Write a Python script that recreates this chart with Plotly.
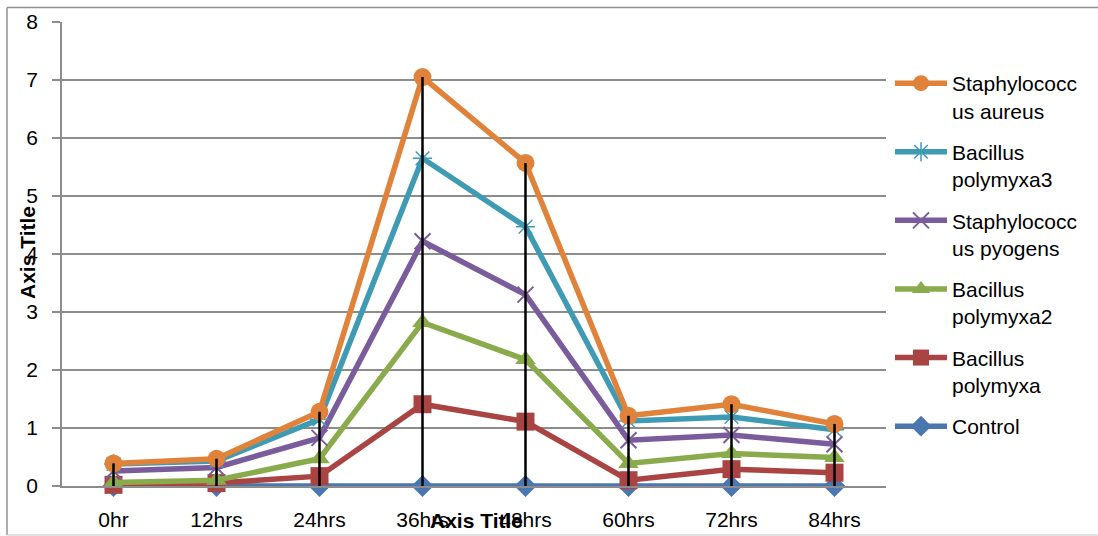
import plotly.graph_objects as go

categories = ["0hr", "12hrs", "24hrs", "36hrs", "48hrs", "60hrs", "72hrs", "84hrs"]

control = [0, 0, 0, 0, 0, 0, 0, 0]
bacillus_polymyxa = [0.02, 0.05, 0.17, 1.41, 1.11, 0.10, 0.29, 0.23]
bacillus_polymyxa2 = [0.06, 0.10, 0.47, 2.82, 2.18, 0.39, 0.56, 0.49]
staph_pyogens = [0.26, 0.32, 0.83, 4.22, 3.30, 0.79, 0.88, 0.72]
bacillus_polymyxa3 = [0.38, 0.43, 1.15, 5.65, 4.47, 1.12, 1.19, 0.97]
staph_aureus = [0.39, 0.47, 1.28, 7.05, 5.57, 1.21, 1.41, 1.07]

series = [
    ("Control", control, "#4A77B0", "diamond", 17, 0),
    ("Bacillus<br>polymyxa", bacillus_polymyxa, "#AA4443", "square", 18, 0),
    ("Bacillus<br>polymyxa2", bacillus_polymyxa2, "#8AAB4B", "triangle-up", 18, 0),
    ("Staphylococc<br>us pyogens", staph_pyogens, "#7A5C9C", "x-thin-open", 16, 2),
    ("Bacillus<br>polymyxa3", bacillus_polymyxa3, "#3F9BB4", "asterisk-open", 16, 1.5),
    ("Staphylococc<br>us aureus", staph_aureus, "#E0823A", "circle", 18, 0),
]

fig = go.Figure()
n = len(series)
for i, (name, vals, color, sym, size, lw) in enumerate(series):
    fig.add_trace(go.Scatter(
        x=categories, y=vals, name=name, mode="lines+markers",
        legendgroup="g%d" % i, legendrank=n - i,
        line=dict(color=color, width=5.5),
        marker=dict(symbol=sym, size=size, color=color,
                    line=dict(color=color, width=lw)),
        cliponaxis=False,
    ))

# drop lines from highest point to the category axis
all_vals = [s[1] for s in series]
dx, dy = [], []
for j, c in enumerate(categories):
    top = max(v[j] for v in all_vals)
    dx += [c, c, None]
    dy += [top, 0, None]
fig.add_trace(go.Scatter(x=dx, y=dy, mode="lines", showlegend=False,
                         line=dict(color="black", width=2.5), cliponaxis=False,
                         hoverinfo="skip"))

font_family = "Liberation Sans, Arial, sans-serif"
W, H = 1098, 536
L, R, T, B = 62, 212, 22, 50
pw, ph = W - L - R, H - T - B

def px_x(x):
    return (x - L) / pw

def px_y(y):
    return (H - B - y) / ph

fig.update_layout(
    width=W, height=H,
    margin=dict(l=L, r=R, t=T, b=B, autoexpand=False),
    paper_bgcolor="white", plot_bgcolor="white",
    font=dict(family=font_family, size=21, color="black"),
    showlegend=True,
    legend=dict(
        x=px_x(890), y=px_y(63), xanchor="left", yanchor="top",
        traceorder="grouped", tracegroupgap=11,
        font=dict(family=font_family, size=21, color="black"),
        valign="top", itemwidth=52, bgcolor="rgba(0,0,0,0)",
    ),
    xaxis=dict(
        type="category", range=[-0.5, 7.5], showgrid=False,
        showline=True, linecolor="#8c8c8c", linewidth=1.5,
        ticks="", ticklabelstandoff=14, automargin=False,
        tickfont=dict(family=font_family, size=21, color="black"),
        zeroline=False,
    ),
    yaxis=dict(
        range=[0, 8], dtick=1, showgrid=True, gridcolor="#8c8c8c", gridwidth=1.5,
        showline=True, linecolor="#8c8c8c", linewidth=1.5,
        ticks="outside", ticklen=8, tickcolor="#8c8c8c", tickwidth=1.5,
        ticklabelstandoff=10, automargin=False,
        tickfont=dict(family=font_family, size=21, color="black"),
        zeroline=False,
    ),
    annotations=[
        dict(text="<b>Axis Title</b>", xref="paper", yref="paper",
             x=px_x(476), y=px_y(520), xanchor="center", yanchor="middle",
             showarrow=False, font=dict(family=font_family, size=21, color="black")),
        dict(text="<b>Axis Title</b>", xref="paper", yref="paper",
             x=px_x(28), y=px_y(253), xanchor="center", yanchor="middle",
             textangle=-90, showarrow=False,
             font=dict(family=font_family, size=21, color="black")),
    ],
    shapes=[
        dict(type="line", xref="paper", yref="paper",
             x0=px_x(7), x1=px_x(7), y0=px_y(535), y1=px_y(7.5),
             line=dict(color="#909090", width=1.5)),
        dict(type="line", xref="paper", yref="paper",
             x0=px_x(7), x1=px_x(1100), y0=px_y(7.5), y1=px_y(7.5),
             line=dict(color="#909090", width=1.5)),
        dict(type="line", xref="paper", yref="paper",
             x0=px_x(7), x1=px_x(1100), y0=px_y(535), y1=px_y(535),
             line=dict(color="#d9d9d9", width=1.5)),
    ],
)

fig.write_html("out.html")
